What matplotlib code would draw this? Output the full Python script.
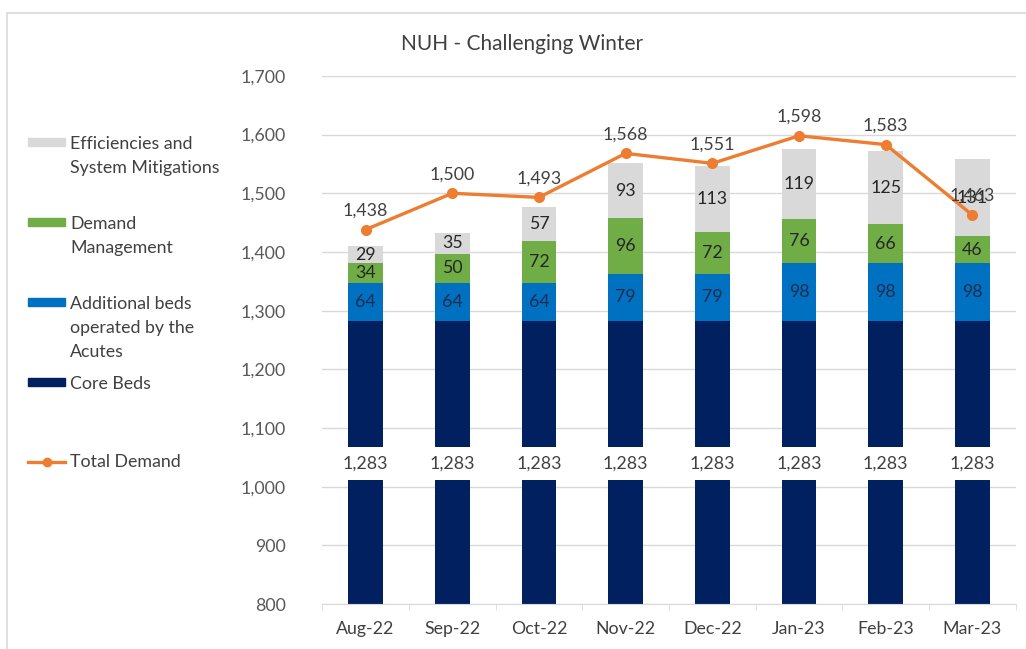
import matplotlib.pyplot as plt
from matplotlib.patches import Rectangle
from matplotlib.lines import Line2D
import numpy as np

plt.rcParams['font.family'] = ['Lato', 'DejaVu Sans']

# data
months = ['Aug-22', 'Sep-22', 'Oct-22', 'Nov-22', 'Dec-22', 'Jan-23', 'Feb-23', 'Mar-23']
core_beds = [1283, 1283, 1283, 1283, 1283, 1283, 1283, 1283]
additional_beds = [64, 64, 64, 79, 79, 98, 98, 98]
demand_mgmt = [34, 50, 72, 96, 72, 76, 66, 46]
efficiencies = [29, 35, 57, 93, 113, 119, 125, 131]
total_demand = [1438, 1500, 1493, 1568, 1551, 1598, 1583, 1463]

c_core = '#002060'
c_add = '#0070C0'
c_dem = '#70AD47'
c_eff = '#D9D9D9'
c_line = '#ED7D31'
c_txt = '#404040'
fs = 12.8

fig = plt.figure(figsize=(10.26, 6.49), dpi=100)
ax = fig.add_axes([0.314, 0.0693, 0.676, 0.8137])

x = np.arange(len(months))
w = 0.40
core = np.array(core_beds)
add = np.array(additional_beds)
dem = np.array(demand_mgmt)
eff = np.array(efficiencies)

ax.bar(x, core, w, color=c_core, zorder=2)
ax.bar(x, add, w, bottom=core, color=c_add, zorder=2)
ax.bar(x, dem, w, bottom=core + add, color=c_dem, zorder=2)
ax.bar(x, eff, w, bottom=core + add + dem, color=c_eff, zorder=2)
ax.plot(x, total_demand, color=c_line, lw=2.4, marker='o', ms=7, zorder=4)

# segment labels
for i in range(len(x)):
    ax.text(x[i], core[i] + add[i] / 2, f"{add[i]}", ha='center', va='center',
            fontsize=fs, color='#1F2D50', zorder=5)
    ax.text(x[i], core[i] + add[i] + dem[i] / 2, f"{dem[i]}", ha='center', va='center',
            fontsize=fs, color='#262626', zorder=5)
    ax.text(x[i], core[i] + add[i] + dem[i] + eff[i] / 2, f"{eff[i]}", ha='center', va='center',
            fontsize=fs, color='#262626', zorder=5)
    ax.text(x[i], 1040, f"{core[i]:,}", ha='center', va='center', fontsize=fs, color=c_txt,
            zorder=5, bbox=dict(facecolor='white', edgecolor='none', pad=6))
    ax.annotate(f"{total_demand[i]:,}", (x[i], total_demand[i]), xytext=(0, 8),
                textcoords='offset points', ha='center', va='bottom', fontsize=fs,
                color=c_txt, zorder=6)

ax.set_ylim(800, 1700)
ax.set_xlim(-0.5, len(months) - 0.5)
ax.set_yticks(range(800, 1701, 100))
ax.set_yticklabels([f"{v:,}" for v in range(800, 1701, 100)])
ax.set_xticks(x)
ax.set_xticklabels(months)
ax.set_xticks(np.arange(-0.5, len(months), 1), minor=True)
ax.tick_params(axis='y', length=0, labelsize=fs, labelcolor='#595959', pad=26)
ax.tick_params(axis='x', which='major', length=0, labelsize=fs, labelcolor='#404040', pad=12)
ax.tick_params(axis='x', which='minor', length=4, color='#D9D9D9')
ax.grid(axis='y', color='#D9D9D9', lw=1, zorder=0)
for s in ['top', 'right', 'left']:
    ax.spines[s].set_visible(False)
ax.spines['bottom'].set_color('#D9D9D9')

fig.text(0.509, 0.932, 'NUH - Challenging Winter', ha='center', va='center',
         fontsize=15, color='#404040')

# legend drawn on the left side
leg = [
    (c_eff, 'Efficiencies and\nSystem Mitigations', 142),
    (c_dem, 'Demand\nManagement', 222),
    (c_add, 'Additional beds\noperated by the\nAcutes', 302),
    (c_core, 'Core Beds', 382),
]
for col, lab, ypx in leg:
    fig.patches.append(Rectangle((28 / 1026, 1 - (ypx + 4) / 649), 37 / 1026, 8 / 649,
                                 color=col, transform=fig.transFigure))
    fig.text(70 / 1026, 1 - (ypx - 6) / 649, lab, ha='left', va='top', fontsize=fs,
             color='#404040', linespacing=1.6)
fig.lines.append(Line2D([28 / 1026, 46.5 / 1026, 65 / 1026], [1 - 462 / 649] * 3,
                        color=c_line, lw=2.4, marker='o', ms=6, markevery=[1],
                        transform=fig.transFigure))
fig.text(70 / 1026, 1 - 462 / 649, 'Total Demand', ha='left', va='center', fontsize=fs,
         color='#404040')

# outer frame
fig.patches.append(Rectangle((7 / 1026, -0.1), 1.2, 1 - 13 / 649 + 0.1, fill=False,
                             edgecolor='#D9D9D9', lw=1.2, transform=fig.transFigure))

fig.savefig('out.png', dpi=100)
